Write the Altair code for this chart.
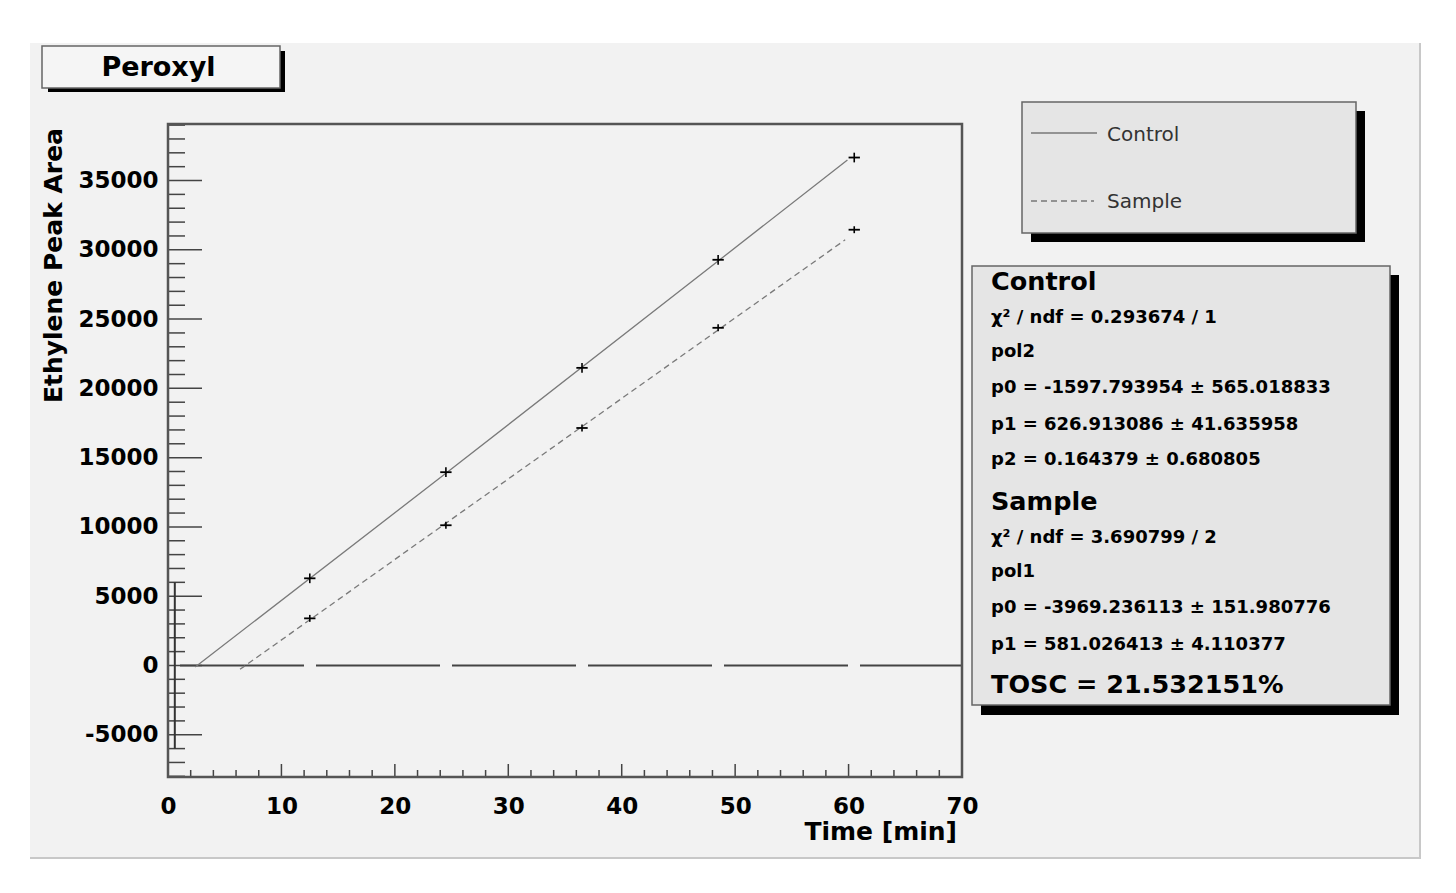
import altair as alt
import pandas as pd

# ---------------- data ----------------
times = [12.5, 24.5, 36.5, 48.5, 60.5]
control_area = [6290, 13950, 21480, 29280, 36660]
sample_area = [3400, 10120, 17140, 24370, 31450]
time_err = [0.5, 0.5, 0.5, 0.5, 0.5]
control_err = [350, 350, 350, 350, 350]
sample_err = [250, 250, 250, 250, 250]

control_fit_t = [2.4, 24.5, 48.5, 59.9]
control_fit_v = [-110, 13870, 29190, 36480]
sample_fit_t = [6.35, 59.7]
sample_fit_v = [-280, 30720]

origin_t = [0.6]
origin_v = [0]
origin_err = [6000]

x_major = [0, 10, 20, 30, 40, 50, 60, 70]
x_minor = [2, 4, 6, 8, 12, 14, 16, 18, 22, 24, 26, 28, 32, 34, 36, 38,
           42, 44, 46, 48, 52, 54, 56, 58, 62, 64, 66, 68]
y_major = [-5000, 0, 5000, 10000, 15000, 20000, 25000, 30000, 35000]
y_minor = [-8000, -7000, -6000, -4000, -3000, -2000, -1000, 1000, 2000, 3000, 4000,
           6000, 7000, 8000, 9000, 11000, 12000, 13000, 14000, 16000, 17000, 18000,
           19000, 21000, 22000, 23000, 24000, 26000, 27000, 28000, 29000, 31000,
           32000, 33000, 34000, 36000, 37000, 38000, 39000]

title_text = "Peroxyl"
x_title = "Time [min]"
y_title = "Ethylene Peak Area"
legend_labels = ["Control", "Sample"]
stats_heads = ["Control", "Sample", "TOSC = 21.532151%"]
stats_control = ["χ² / ndf = 0.293674 / 1", "pol2",
                 "p0 = -1597.793954 ± 565.018833",
                 "p1 = 626.913086 ± 41.635958",
                 "p2 = 0.164379 ± 0.680805"]
stats_sample = ["χ² / ndf = 3.690799 / 2", "pol1",
                "p0 = -3969.236113 ± 151.980776",
                "p1 = 581.026413 ± 4.110377"]

# ---------------- layout / style ----------------
W, H = 794, 653
FONT = "DejaVu Sans"
dummy = pd.DataFrame({"k": [0]})

xscale = alt.Scale(domain=[0, 70], nice=False, zero=False)
yscale = alt.Scale(domain=[-8050, 39080], nice=False, zero=False)
x_axis = alt.Axis(values=x_major, title=None, ticks=False, tickSize=0, domain=False,
                  grid=False, labelFont=FONT, labelFontSize=23, labelFontWeight="bold",
                  labelColor="black", labelPadding=18, labelFlush=False,
                  labelOverlap=False, zindex=1, labelExpr="toString(datum.value)")
y_axis = alt.Axis(values=y_major, title=None, ticks=False, tickSize=0, domain=False,
                  grid=False, labelFont=FONT, labelFontSize=23, labelFontWeight="bold",
                  labelColor="black", labelPadding=10, labelOverlap=False, zindex=1,
                  labelExpr="toString(datum.value)")


def rect(x1, y1, x2, y2, fill, **kw):
    return alt.Chart(dummy).mark_rect(fill=fill, **kw).encode(
        x=alt.value(x1), x2=alt.value(x2), y=alt.value(y1), y2=alt.value(y2))


def text(x, y, s, size, weight="bold", align="left", color="black", **kw):
    return alt.Chart(dummy).mark_text(
        font=FONT, fontSize=size, fontWeight=weight, align=align,
        baseline="alphabetic", color=color, **kw).encode(
        x=alt.value(x), y=alt.value(y), text=alt.value(s))


def hline(x1, x2, y, color, width, **kw):
    return alt.Chart(dummy).mark_rule(color=color, strokeWidth=width, **kw).encode(
        x=alt.value(x1), x2=alt.value(x2), y=alt.value(y))


layers = []
# canvas
layers.append(rect(-138, -81, 1252, 734, "#f2f2f2"))
layers.append(alt.Chart(dummy).mark_rule(color="#c8c8c8", strokeWidth=2).encode(
    x=alt.value(1252), y=alt.value(-81), y2=alt.value(735)))
layers.append(hline(-138, 1253, 734, "#c8c8c8", 2))

# title box
layers.append(rect(-120, -73, 117, -32, "black"))
layers.append(rect(-126, -78, 112, -36, "#f5f5f5", stroke="#666666", strokeWidth=1.5))
layers.append(text(-9.5, -48, title_text, 27, align="center"))

# legend box
layers.append(rect(863, -13, 1197, 118, "black"))
layers.append(rect(854, -22, 1188, 109, "#e5e5e5", stroke="#666666", strokeWidth=1.5))
layers.append(hline(863, 929, 9, "#777777", 1.5))
layers.append(hline(863, 926, 77, "#777777", 1.5, strokeDash=[6, 4]))
layers.append(text(939, 17, legend_labels[0], 20, weight="normal", color="#333333"))
layers.append(text(939, 84, legend_labels[1], 20, weight="normal", color="#333333"))

# stats box
layers.append(rect(813, 151, 1231, 591, "black"))
layers.append(rect(804, 142, 1222, 581, "#e5e5e5", stroke="#666666", strokeWidth=1.5))
SX = 823
layers.append(text(SX, 166, stats_heads[0], 25.5))
for s, yb in zip(stats_control, [199, 233, 269, 306, 341]):
    layers.append(text(SX, yb, s, 18))
layers.append(text(SX, 386, stats_heads[1], 25.5))
for s, yb in zip(stats_sample, [419, 453, 489, 526]):
    layers.append(text(SX, yb, s, 18))
layers.append(text(SX, 569, stats_heads[2], 25.5))

# axis titles
layers.append(text(-106, 4, y_title, 25, align="right", angle=270))
layers.append(text(789, 716, x_title, 25, align="right"))

# zero line (long dashes)
layers.append(alt.Chart(pd.DataFrame({"v": [0]})).mark_rule(
    color="#444444", strokeWidth=2, strokeDash=[124, 12], strokeDashOffset=22).encode(
    y=alt.Y("v:Q", scale=yscale, axis=y_axis)))

# tick marks (ROOT style, inside the frame)
layers.append(alt.Chart(pd.DataFrame({"v": y_major})).mark_rule(
    color="#444444", strokeWidth=1.5).encode(
    y=alt.Y("v:Q", scale=yscale, axis=y_axis), x=alt.value(0), x2=alt.value(34)))
layers.append(alt.Chart(pd.DataFrame({"v": y_minor})).mark_rule(
    color="#444444", strokeWidth=1.5).encode(
    y=alt.Y("v:Q", scale=yscale, axis=y_axis), x=alt.value(0), x2=alt.value(17)))
layers.append(alt.Chart(pd.DataFrame({"t": x_major})).mark_rule(
    color="#444444", strokeWidth=1.5).encode(
    x=alt.X("t:Q", scale=xscale, axis=x_axis), y=alt.value(H - 13), y2=alt.value(H)))
layers.append(alt.Chart(pd.DataFrame({"t": x_minor})).mark_rule(
    color="#444444", strokeWidth=1.5).encode(
    x=alt.X("t:Q", scale=xscale, axis=x_axis), y=alt.value(H - 7), y2=alt.value(H)))

# fit lines
layers.append(alt.Chart(pd.DataFrame({"t": control_fit_t, "v": control_fit_v})).mark_line(
    color="#7a7a7a", strokeWidth=1.3).encode(
    x=alt.X("t:Q", scale=xscale, axis=x_axis), y=alt.Y("v:Q", scale=yscale, axis=y_axis)))
layers.append(alt.Chart(pd.DataFrame({"t": sample_fit_t, "v": sample_fit_v})).mark_line(
    color="#7a7a7a", strokeWidth=1.3, strokeDash=[6, 4]).encode(
    x=alt.X("t:Q", scale=xscale, axis=x_axis), y=alt.Y("v:Q", scale=yscale, axis=y_axis)))

# error bars ("+" markers)
for vals, errs in [(control_area, control_err), (sample_area, sample_err)]:
    df = pd.DataFrame({"t": times, "v": vals, "te": time_err, "ve": errs})
    df["t_lo"] = df["t"] - df["te"]
    df["t_hi"] = df["t"] + df["te"]
    df["v_lo"] = df["v"] - df["ve"]
    df["v_hi"] = df["v"] + df["ve"]
    layers.append(alt.Chart(df).mark_rule(color="black", strokeWidth=1.8).encode(
        x=alt.X("t_lo:Q", scale=xscale, axis=x_axis), x2="t_hi:Q",
        y=alt.Y("v:Q", scale=yscale, axis=y_axis)))
    layers.append(alt.Chart(df).mark_rule(color="black", strokeWidth=1.6).encode(
        x=alt.X("t:Q", scale=xscale, axis=x_axis),
        y=alt.Y("v_lo:Q", scale=yscale, axis=y_axis), y2="v_hi:Q"))

# point at origin with large vertical error
odf = pd.DataFrame({"t": origin_t, "v": origin_v, "e": origin_err})
odf["lo"] = odf["v"] - odf["e"]
odf["hi"] = odf["v"] + odf["e"]
layers.append(alt.Chart(odf).mark_rule(color="#333333", strokeWidth=2).encode(
    x=alt.X("t:Q", scale=xscale, axis=x_axis),
    y=alt.Y("lo:Q", scale=yscale, axis=y_axis), y2="hi:Q"))

# frame
layers.append(rect(0, 0, W, H, "transparent", stroke="#555555", strokeWidth=2.5,
                   fillOpacity=0))

chart = alt.layer(*layers).properties(
    width=W, height=H,
    autosize=alt.AutoSizeParams(type="none"),
    padding={"left": 160, "top": 116, "right": 470, "bottom": 95},
    background="white",
).configure_view(strokeWidth=0, fill="#f2f2f2")

chart.save("out.html", embed_options={"renderer": "svg", "actions": False})
